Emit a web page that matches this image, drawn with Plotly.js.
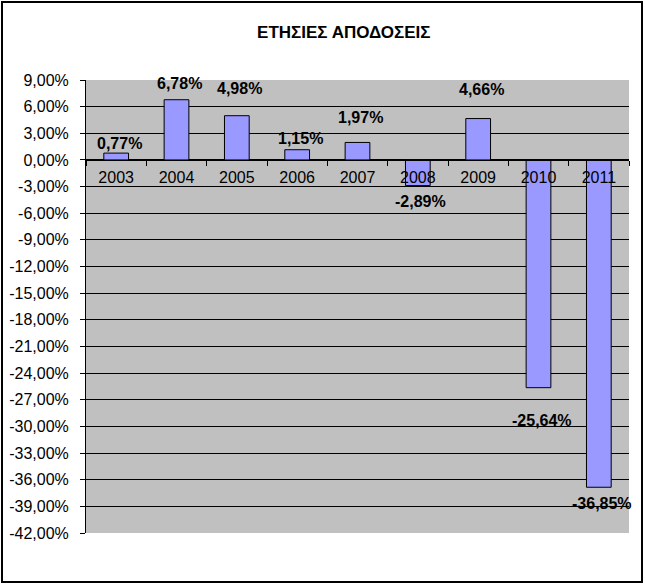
<!DOCTYPE html>
<html>
<head>
<meta charset="utf-8">
<script src="https://cdn.plot.ly/plotly-3.0.1.min.js"></script>
<style>
  html, body { margin: 0; padding: 0; background: #fff; }
  #chart { width: 645px; height: 584px; position: relative; }
  #frame { position: absolute; left: 1px; top: 1px; width: 642px; height: 582px;
           box-sizing: border-box; border: 2px solid #000; pointer-events: none; }
</style>
</head>
<body>
<div id="chart"></div>
<div id="frame"></div>
<script>
// Data
const years = ['2003', '2004', '2005', '2006', '2007', '2008', '2009', '2010', '2011'];
const returns = [0.77, 6.78, 4.98, 1.15, 1.97, -2.89, 4.66, -25.64, -36.85];
const valueLabels = ['0,77%', '6,78%', '4,98%', '1,15%', '1,97%', '-2,89%', '4,66%', '-25,64%', '-36,85%'];
const titleText = 'ΕΤΗΣΙΕΣ ΑΠΟΔΟΣΕΙΣ';
const yTickVals = [9, 6, 3, 0, -3, -6, -9, -12, -15, -18, -21, -24, -27, -30, -33, -36, -39, -42];
const yTickText = ['9,00%', '6,00%', '3,00%', '0,00%', '-3,00%', '-6,00%', '-9,00%', '-12,00%', '-15,00%',
  '-18,00%', '-21,00%', '-24,00%', '-27,00%', '-30,00%', '-33,00%', '-36,00%', '-39,00%', '-42,00%'];

// Label offsets (pixels from bar end), style only
const labelShift = [10, 16, 27, 11, 25, -16, 29, -33, -16];

const font = 'Liberation Sans, Arial, sans-serif';

const trace = {
  type: 'bar',
  x: years,
  y: returns,
  marker: { color: '#9999FF', line: { color: '#000000', width: 1 } },
  hoverinfo: 'skip'
};

// category axes index annotations by position
const annotations = years.map((yr, i) => ({
  x: i, y: returns[i], xref: 'x', yref: 'y',
  text: '<b>' + valueLabels[i] + '</b>',
  showarrow: false,
  xanchor: 'center', yanchor: 'middle',
  yshift: labelShift[i], xshift: 3,
  font: { family: font, size: 16, color: '#000' }
}));

const layout = {
  width: 645, height: 584,
  margin: { l: 86, r: 16, t: 80, b: 51 },
  paper_bgcolor: '#ffffff',
  plot_bgcolor: '#C0C0C0',
  showlegend: false,
  bargap: 0.59,
  title: {
    text: '<b>' + titleText + '</b>',
    font: { family: font, size: 17, color: '#000' },
    xref: 'container', yref: 'container',
    x: 0.533, y: 1 - 32 / 584, xanchor: 'center', yanchor: 'middle'
  },
  xaxis: {
    type: 'category',
    categoryorder: 'array', categoryarray: years,
    range: [-0.5, years.length - 0.5],
    anchor: 'free',
    position: 42 / 51,
    showline: true, linecolor: '#000', linewidth: 1,
    ticks: 'outside', ticklen: 5, tickcolor: '#000', tickwidth: 1,
    tickson: 'boundaries',
    ticklabelstandoff: 3,
    tickangle: 0,
    showgrid: false,
    tickfont: { family: font, size: 16, color: '#000' },
    fixedrange: true
  },
  yaxis: {
    range: [-42, 9],
    tickmode: 'array', tickvals: yTickVals, ticktext: yTickText,
    showline: true, linecolor: '#000', linewidth: 1,
    ticks: 'outside', ticklen: 5, tickcolor: '#000',
    ticklabelstandoff: 8,
    showgrid: true, gridcolor: '#000', gridwidth: 1,
    zeroline: true, zerolinecolor: '#000', zerolinewidth: 1,
    tickfont: { family: font, size: 16, color: '#000' },
    fixedrange: true
  },
  annotations: annotations
};

Plotly.newPlot('chart', [trace], layout, { displayModeBar: false, staticPlot: true });
</script>
</body>
</html>
